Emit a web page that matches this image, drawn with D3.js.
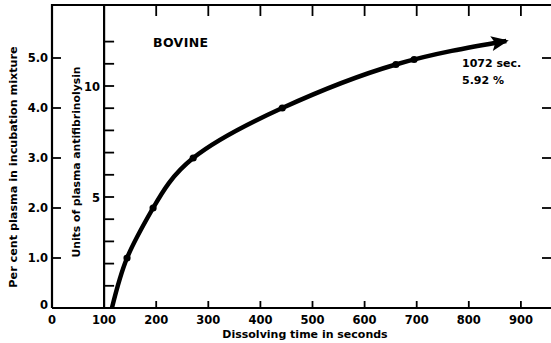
<!DOCTYPE html>
<html>
<head>
<meta charset="utf-8">
<script src="https://cdn.jsdelivr.net/npm/d3@7"></script>
<style>
  body { margin: 0; background: #fff; }
  text { font-family: "DejaVu Sans", sans-serif; font-weight: bold; fill: #000; }
</style>
</head>
<body>
<div class="chart"></div>
<script>
// 曲线上读出的点 (秒, 百分比)
const curveTime = [115, 144, 194, 271, 442, 660, 872]
const curvePct = [0, 1, 2, 3, 4.0, 4.87, 5.34]
// 实测点
const pointTime = [144, 194, 271, 442, 660, 695]
const pointPct = [1, 2, 3, 4, 4.87, 4.97]
// 刻度
const xTicks = [0, 100, 200, 300, 400, 500, 600, 700, 800, 900]
const pctTicks = [1, 2, 3, 4, 5]
const pctLabels = ['1.0', '2.0', '3.0', '4.0', '5.0']
const unitTicks = [1, 2, 3, 4, 5, 6, 7, 8, 9, 10, 11, 12]
const unitLabels = [5, 10]

const width = 551
const height = 343
const x0 = 52, yTop = 5, yBot = 308, xRight = 551

const svg = d3.select('.chart').append('svg')
  .attr('width', width).attr('height', height)

const x = d3.scaleLinear().domain([0, 900]).range([x0, x0 + 0.521 * 900])
const yPct = d3.scaleLinear().domain([0, 6]).range([yBot, yBot - 300])
const yUnit = d3.scaleLinear().domain([0, 13]).range([yBot, yBot - 13 * 22.2])

// 箭头
svg.append('defs').append('marker')
  .attr('id', 'arrow')
  .attr('viewBox', '0 -6 14 12')
  .attr('refX', 12)
  .attr('refY', 0)
  .attr('markerUnits', 'userSpaceOnUse')
  .attr('markerWidth', 18)
  .attr('markerHeight', 15)
  .attr('orient', 'auto')
  .append('path')
  .attr('d', 'M0,-6 L14,0 L0,6 L3,0 Z')
  .attr('fill', '#000')

// 外框
const frame = svg.append('g').attr('stroke', '#000').attr('stroke-width', 2.2).attr('fill', 'none')
frame.append('path').attr('d', `M${x0},${yBot} L${x0},${yTop} L${xRight},${yTop}`)
frame.append('line').attr('x1', x0).attr('x2', xRight).attr('y1', yBot).attr('y2', yBot)
frame.append('line').attr('x1', x(100)).attr('x2', x(100)).attr('y1', yTop).attr('y2', yBot)

// 刻度线
const ticks = svg.append('g').attr('stroke', '#000').attr('stroke-width', 1.8)
ticks.selectAll('.pl').data(pctTicks).join('line')
  .attr('class', 'pl')
  .attr('x1', x0).attr('x2', x0 + 9)
  .attr('y1', d => yPct(d)).attr('y2', d => yPct(d))
ticks.selectAll('.pr').data(pctTicks).join('line')
  .attr('class', 'pr')
  .attr('x1', xRight - 9).attr('x2', xRight)
  .attr('y1', d => yPct(d)).attr('y2', d => yPct(d))
ticks.selectAll('.u').data(unitTicks).join('line')
  .attr('class', 'u')
  .attr('x1', x(100)).attr('x2', x(100) + 10)
  .attr('y1', d => yUnit(d)).attr('y2', d => yUnit(d))
ticks.selectAll('.xb').data(xTicks.filter(d => d > 100)).join('line')
  .attr('class', 'xb')
  .attr('x1', d => x(d)).attr('x2', d => x(d))
  .attr('y1', yBot).attr('y2', yBot - 7)
ticks.selectAll('.xt').data(xTicks.filter(d => d > 100)).join('line')
  .attr('class', 'xt')
  .attr('x1', d => x(d)).attr('x2', d => x(d))
  .attr('y1', yTop).attr('y2', yTop + 11)

// 刻度文字
svg.append('g').selectAll('text').data(pctTicks).join('text')
  .attr('x', x0 - 4).attr('y', d => yPct(d) + 4)
  .attr('text-anchor', 'end').attr('font-size', 11.5)
  .text((d, i) => pctLabels[i])
svg.append('text').attr('x', x0 - 4).attr('y', yBot + 1)
  .attr('text-anchor', 'end').attr('font-size', 11.5).text('0')

svg.append('g').selectAll('text').data(unitLabels).join('text')
  .attr('x', x(100) - 4).attr('y', d => yUnit(d) + 5)
  .attr('text-anchor', 'end').attr('font-size', 11.5)
  .text(d => d)

svg.append('g').selectAll('text').data(xTicks).join('text')
  .attr('x', d => x(d)).attr('y', yBot + 16)
  .attr('text-anchor', 'middle').attr('font-size', 11.5)
  .text(d => d)

// 轴标题
svg.append('text')
  .attr('transform', `translate(17,${167}) rotate(-90)`)
  .attr('text-anchor', 'middle').attr('font-size', 11.2)
  .text('Per cent plasma in incubation mixture')
svg.append('text')
  .attr('transform', `translate(80,${162}) rotate(-90)`)
  .attr('text-anchor', 'middle').attr('font-size', 10.8)
  .text('Units of plasma antifibrinolysin')
svg.append('text')
  .attr('x', 305).attr('y', 338)
  .attr('text-anchor', 'middle').attr('font-size', 11)
  .text('Dissolving time in seconds')

svg.append('text').attr('x', 153).attr('y', 47).attr('font-size', 12.5)
  .attr('letter-spacing', 0.4).text('BOVINE')
svg.append('text').attr('x', 462).attr('y', 67).attr('font-size', 11).text('1072 sec.')
svg.append('text').attr('x', 462).attr('y', 84).attr('font-size', 11).text('5.92 %')

// 曲线 (平滑)
const line = d3.line()
  .x((d, i) => x(curveTime[i]))
  .y((d, i) => yPct(curvePct[i]))
  .curve(d3.curveNatural)
svg.append('path')
  .datum(curveTime)
  .attr('d', line)
  .attr('fill', 'none')
  .attr('stroke', '#000')
  .attr('stroke-width', 4.5)
  .attr('marker-end', 'url(#arrow)')

svg.append('g').selectAll('circle').data(pointTime).join('circle')
  .attr('cx', d => x(d))
  .attr('cy', (d, i) => yPct(pointPct[i]))
  .attr('r', 3.6)
  .attr('fill', '#000')
</script>
</body>
</html>
